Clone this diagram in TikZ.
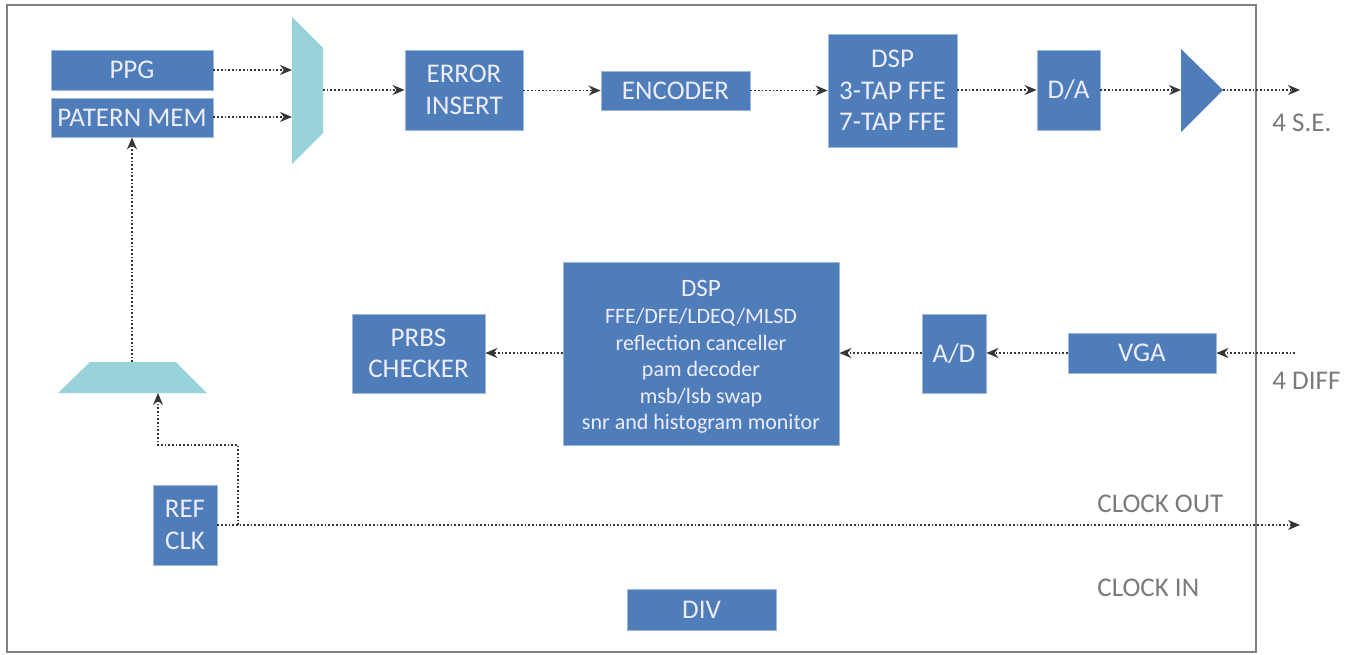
\documentclass[tikz,border=0pt]{standalone}
\usepackage{fontspec}
\setmainfont{Carlito}
\usetikzlibrary{arrows.meta}
\definecolor{boxblue}{HTML}{4F7DBA}
\definecolor{boxedge}{HTML}{9DB9DE}
\definecolor{muxteal}{HTML}{97D3D9}
\definecolor{linegray}{HTML}{353535}
\definecolor{labelgray}{HTML}{7A7A7A}
\definecolor{framegray}{HTML}{808080}
\tikzset{
  blk/.style={fill=boxblue, draw=boxedge, line width=0.4pt, text=white!93!blue,
    inner sep=0pt, align=center, font=\fontsize{13.5}{15.8}\selectfont},
  sig/.style={densely dotted, draw=linegray, line width=0.85pt,
    -{Stealth[length=6pt,width=5pt]}},
  lbl/.style={text=labelgray, anchor=west, inner sep=0pt, font=\fontsize{13.5}{15}\selectfont},
}
\begin{document}
\begin{tikzpicture}[x=0.5pt,y=-0.5pt]
\useasboundingbox (0,0) rectangle (1358,654);
% frame
\draw[framegray, line width=1pt] (7,5) rectangle (1256,652);

% top row
\node[blk, minimum width=81pt, minimum height=20pt] (ppg) at (132,70) {PPG};
\node[blk, minimum width=81pt, minimum height=19.5pt] (pmem) at (132,117.5) {PATERN MEM};
\fill[muxteal] (292,17) -- (323,48) -- (323,133) -- (292,164) -- cycle;
\coordinate (muxa) at (292,70);
\coordinate (muxb) at (292,117);
\coordinate (muxo) at (323,90);
\node[blk, minimum width=59pt, minimum height=40pt] (err) at (464,90) {ERROR\\INSERT};
\node[blk, minimum width=74.5pt, minimum height=19.5pt] (enc) at (675.5,90.5) {ENCODER};
\node[blk, minimum width=64.5pt, minimum height=56.5pt] (dsp1) at (892.5,90.5) {DSP\\3-TAP FFE\\7-TAP FFE};
\node[blk, minimum width=31.5pt, minimum height=40pt] (da) at (1068.5,90) {D/A};
\fill[boxblue] (1181,49) -- (1223,90) -- (1181,132) -- cycle;
\coordinate (ampi) at (1181,90);
\coordinate (ampo) at (1223,90);
\coordinate (seout) at (1300,90);

\draw[sig] (ppg.east |- muxa) -- (muxa);
\draw[sig] (pmem.east |- muxb) -- (muxb);
\draw[sig] (muxo) -- (err.west |- muxo);
\draw[sig] (err.east |- enc.west) -- (enc.west);
\draw[sig] (enc.east) -- (dsp1.west);
\draw[sig] (dsp1.east |- ampi) -- (da.west |- ampi);
\draw[sig] (da.east |- ampi) -- (ampi);
\draw[sig] (ampo) -- (seout);
\node[lbl] (se) at (1272,123) {4 S.E.};

% middle row
\node[blk, minimum width=66.5pt, minimum height=39.5pt] (prbs) at (418.5,353.5) {PRBS\\CHECKER};
\node[blk, minimum width=138pt, minimum height=91.5pt, font=\fontsize{11}{13.25}\selectfont] (dsp2) at (701,353.5) {};
\node[blk, draw=none, fill=none, font=\fontsize{11}{13.25}\selectfont] (dsp2t) at (701,357)
  {{\fontsize{12.5}{13}\selectfont DSP}\\[0.3pt]FFE/DFE/LDEQ/MLSD\\reflection canceller\\pam decoder\\msb/lsb swap\\snr and histogram monitor};
\node[blk, minimum width=32pt, minimum height=39.5pt] (ad) at (954,353.5) {A/D};
\node[blk, minimum width=74pt, minimum height=20pt] (vga) at (1142,353) {VGA};
\coordinate (diffin) at (1295,353);
\draw[sig] (diffin) -- (vga.east);
\draw[sig] (vga.west) -- (ad.east |- vga.west);
\draw[sig] (ad.west |- vga.west) -- (dsp2.east |- vga.west);
\draw[sig] (dsp2.west |- vga.west) -- (prbs.east |- vga.west);
\node[lbl] (diff) at (1272,381) {4 DIFF};

% clock section
\fill[muxteal] (90,362) -- (176,362) -- (207,393) -- (58,393) -- cycle;
\coordinate (mux2t) at (132,362);
\coordinate (mux2b) at (158,393);
\draw[sig] (mux2t) -- (pmem.south);
\node[blk, minimum width=32pt, minimum height=40pt] (ref) at (185,525) {REF\\CLK};
\coordinate (clkout) at (1300,525);
\coordinate (br) at (238,525);
\coordinate (bend) at (158,445);
\draw[sig] (ref.east) -- (clkout);
\draw[sig] (br) |- (bend) -- (mux2b);
\node[lbl] (co) at (1097,503.5) {CLOCK OUT};
\node[lbl] (ci) at (1097,587.5) {CLOCK IN};
\node[blk, minimum width=74.5pt, minimum height=20.5pt] (div) at (701.5,609.5) {DIV};
\end{tikzpicture}
\end{document}
